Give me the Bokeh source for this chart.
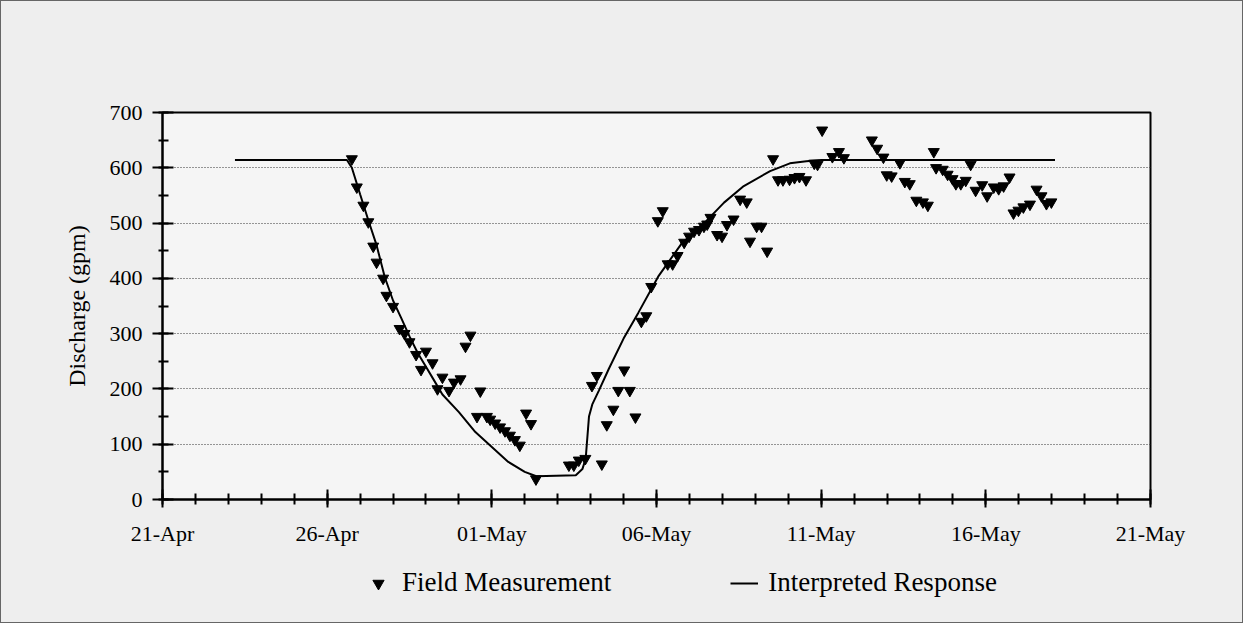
from bokeh.plotting import figure
from bokeh.layouts import column
from bokeh.models import (Range1d, FixedTicker, Legend, LegendItem, ColumnDataSource)
from bokeh.embed import file_html
from bokeh.resources import INLINE

# x values are days counted from 21-Apr
x_tick_days = [0, 5, 10, 15, 20, 25, 30]
x_tick_labels = ["21-Apr", "26-Apr", "01-May", "06-May", "11-May", "16-May", "21-May"]
y_ticks = [0, 100, 200, 300, 400, 500, 600, 700]

# Field Measurement
meas_day = [5.75, 5.90, 6.10, 6.25, 6.40, 6.50, 6.70, 6.80, 7.00, 7.20, 7.35, 7.50, 7.70, 7.85,
            8.00, 8.20, 8.35, 8.50, 8.70, 8.85, 9.05, 9.20, 9.35, 9.55, 9.65, 9.85,
            9.95, 10.10, 10.25, 10.40, 10.55, 10.70, 10.85, 11.04, 11.19, 11.34,
            12.34, 12.49, 12.64, 12.84, 13.04, 13.19, 13.34, 13.49, 13.69, 13.84, 14.02,
            14.19, 14.36, 14.54, 14.69, 14.84, 15.04, 15.19, 15.34, 15.49, 15.64, 15.84,
            15.99, 16.14, 16.29, 16.44, 16.54, 16.64, 16.84, 16.99, 17.14, 17.34, 17.54,
            17.74, 17.84, 18.04, 18.19, 18.36, 18.54, 18.69, 18.84, 19.04, 19.19, 19.34,
            19.54, 19.79, 19.89, 20.03, 20.34, 20.54, 20.69, 21.54, 21.70, 21.89, 21.99,
            22.14, 22.39, 22.54, 22.69, 22.89, 23.09, 23.24, 23.42, 23.49, 23.69, 23.84,
            23.99, 24.09, 24.24, 24.39, 24.54, 24.69, 24.89, 25.04, 25.24, 25.39, 25.54,
            25.72, 25.84, 25.99, 26.14, 26.34, 26.54, 26.69, 26.84, 26.99]
meas_val = [616, 565, 532, 502, 458, 429, 400, 369, 349, 309, 300, 285, 262, 235,
            268, 247, 200, 221, 197, 212, 218, 277, 297, 150, 196, 150,
            145, 138, 131, 124, 116, 108, 98, 156, 137, 37,
            62, 62, 71, 74, 206, 224, 64, 135, 163, 197, 234,
            197, 149, 322, 332, 385, 504, 522, 426, 426, 441, 465,
            476, 485, 488, 494, 498, 510, 479, 476, 497, 507, 543,
            538, 467, 494, 494, 449, 616, 578, 578, 579, 582, 584,
            578, 608, 606, 668, 620, 629, 618, 650, 635, 619, 587,
            585, 609, 575, 571, 541, 538, 532, 629, 600, 597, 588,
            580, 571, 571, 577, 606, 559, 569, 549, 565, 562, 567,
            583, 518, 523, 529, 534, 561, 549, 535, 538]

# Interpreted Response
curve_day = [2.2, 5.6, 5.75, 6.0, 6.25, 6.5, 6.75, 7.0, 7.25, 7.5, 7.75, 8.0, 8.25, 8.5,
             9.0, 9.5, 10.0, 10.5, 11.0, 11.35, 12.55, 12.75, 12.85, 12.95, 13.05, 13.25,
             13.55, 14.0, 14.45, 15.05, 15.75, 16.45, 17.05, 17.65, 18.45, 19.05, 19.55,
             20.0, 27.1]
curve_val = [614, 614, 600, 552, 505, 460, 402, 360, 328, 295, 265, 240, 215, 190,
             158, 122, 95, 68, 50, 42, 44, 55, 74, 150, 172, 197,
             236, 291, 338, 403, 462, 500, 537, 567, 594, 608, 612,
             614, 614]

FONT = "Liberation Serif"
BG = "#eeeeee"

p = figure(width=1241, height=560, output_backend="svg", toolbar_location=None,
           x_range=Range1d(0, 30), y_range=Range1d(0, 700),
           min_border_left=161, min_border_right=92, min_border_top=111,
           min_border_bottom=62,
           background_fill_color="#f5f5f5", border_fill_color=BG,
           outline_line_color="black", outline_line_width=2)

src_m = ColumnDataSource(dict(x=meas_day, y=meas_val))
src_c = ColumnDataSource(dict(x=curve_day, y=curve_val))

r_line = p.line("x", "y", source=src_c, line_color="black", line_width=2)
r_pts = p.scatter("x", "y", source=src_m, marker="inverted_triangle", size=11,
                  fill_color="black", line_color="black")

# axes
xa = p.xaxis[0]
xa.ticker = FixedTicker(ticks=x_tick_days, minor_ticks=list(range(0, 31)))
xa.major_label_overrides = {d: l for d, l in zip(x_tick_days, x_tick_labels)}
xa.major_tick_in = 10
xa.major_tick_out = 8
xa.minor_tick_in = 6
xa.minor_tick_out = 5
xa.axis_line_width = 2
xa.major_tick_line_width = 2
xa.minor_tick_line_width = 2
xa.major_label_text_font = FONT
xa.major_label_text_font_size = "22px"
xa.major_label_text_color = "black"
xa.major_label_standoff = 13

ya = p.yaxis[0]
ya.ticker = FixedTicker(ticks=y_ticks, minor_ticks=list(range(0, 701, 50)))
ya.major_tick_in = 11
ya.major_tick_out = 10
ya.minor_tick_in = 6
ya.minor_tick_out = 4
ya.axis_line_width = 2
ya.major_tick_line_width = 2
ya.minor_tick_line_width = 2
ya.major_label_text_font = FONT
ya.major_label_text_font_size = "22px"
ya.major_label_text_color = "black"
ya.major_label_standoff = 10
ya.axis_label = "Discharge (gpm)"
ya.axis_label_text_font = FONT
ya.axis_label_text_font_size = "24px"
ya.axis_label_text_font_style = "normal"
ya.axis_label_text_color = "black"
ya.axis_label_standoff = 17

p.xgrid.visible = False
p.ygrid.ticker = FixedTicker(ticks=[100, 200, 300, 400, 500, 600])
p.ygrid.grid_line_color = "#333333"
p.ygrid.grid_line_width = 1
p.ygrid.grid_line_dash = "1 2"

# legend strip below the chart (its frame is aligned with the chart's frame)
q = figure(width=1241, height=61, output_backend="svg", toolbar_location=None,
           x_axis_type=None, y_axis_type=None,
           x_range=Range1d(0, 1), y_range=Range1d(0, 1),
           min_border_left=161, min_border_right=92, min_border_top=0,
           min_border_bottom=0,
           background_fill_color=BG, border_fill_color=BG,
           outline_line_color=None)
q.xgrid.visible = False
q.ygrid.visible = False
# legend-only renderers, kept outside the visible range
lg_pts = q.scatter(x=[-5], y=[-5], marker="inverted_triangle", size=11,
                   fill_color="black", line_color="black")
lg_line = q.line(x=[-5, -4], y=[-5, -5], line_color="black", line_width=2)

legend = Legend(items=[LegendItem(label="Field Measurement", renderers=[lg_pts]),
                       LegendItem(label="Interpreted Response", renderers=[lg_line])],
                location=(202, 24), orientation="horizontal", padding=0, margin=0,
                spacing=119, glyph_width=28, glyph_height=30, label_height=30,
                label_standoff=10, background_fill_alpha=0, border_line_alpha=0,
                label_text_font=FONT, label_text_font_size="27px",
                label_text_color="black")
q.add_layout(legend)

layout = column(p, q, spacing=0)
layout.styles = {"border": "1px solid #666666", "background-color": BG}

open("out.html", "w").write(file_html(layout, INLINE))
